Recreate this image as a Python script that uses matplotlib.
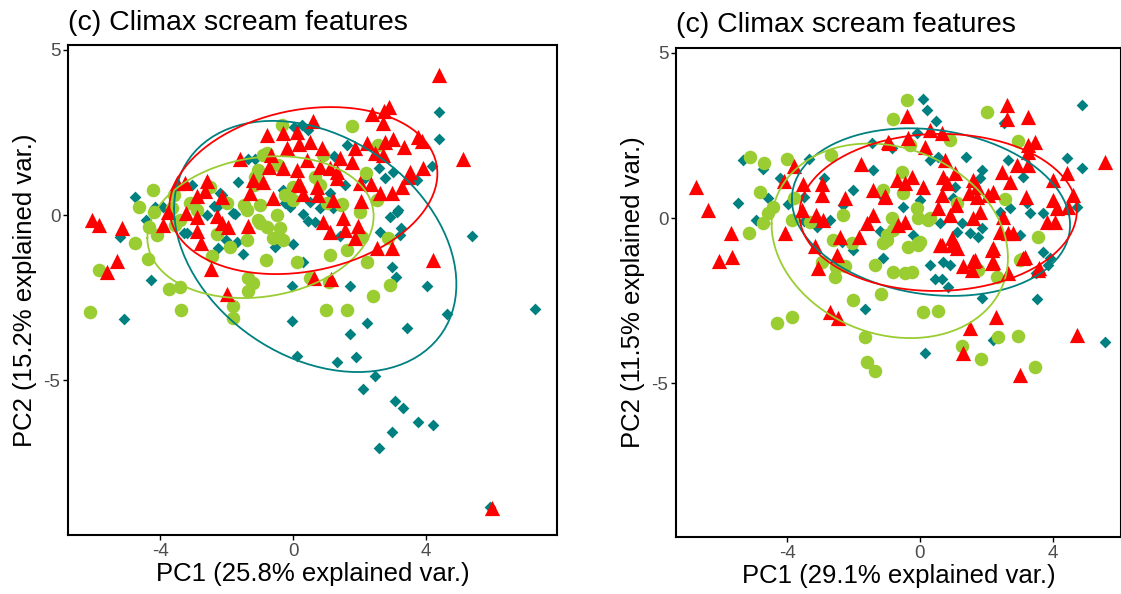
import numpy as np
import matplotlib
matplotlib.use("Agg")
import matplotlib.pyplot as plt

plt.rcParams['font.family'] = ['Liberation Sans', 'DejaVu Sans']
plt.rcParams['axes.unicode_minus'] = False

# group colours
TEAL = '#008080'
GREEN = '#9ACD32'
RED = '#FF0000'

# ---- PCA scores, panel 1 ----
p1_teal_x = [4.39, 4.39, 4.18, 5.38, 7.28, 0.03, 0.27, 0.45, 1.62, 1.23, 2.59, 2.77, 3.01, 3.73, 2.17,
             1.56, 1.11, 0.81, 0.51, 3.16, 0.30, 0.45, 0.66, 1.20, 2.92, 3.13, 2.62, 3.25, 3.22, 1.41,
             0.00, 0.30, -0.03, 2.98, 3.10, 4.03, 1.71, 4.63, 2.23, 1.71, 3.43, -0.03, 0.12, 1.32, 1.89,
             2.47, 2.11, 3.07, 3.31, 3.76, 4.21, 2.98, 2.59, 5.92, -5.20, -4.27, -5.08, -0.54, -1.50,
             -1.74, -2.38, -3.28, -4.42, -1.68, -2.02, -2.26, -4.75, -1.65, -1.35, -1.14, -2.29, -1.80,
             -3.04, -2.14, -0.30, -0.09, -4.15, -3.91, -3.04, -3.19, -2.59, -0.24, -2.20]
p1_teal_y = [3.11, 2.30, 1.48, -0.63, -2.84, 2.66, 2.72, 2.57, 2.11, 1.78, 1.42, 1.12, 1.30, 1.06, 1.12,
             0.91, 0.66, 0.21, 0.39, 0.15, 0.03, -0.18, -0.21, 0.21, -0.06, 0.09, -0.51, -0.39, -0.60, -0.63,
             -0.88, -1.42, -2.15, -1.57, -1.87, -2.15, -2.15, -2.99, -3.26, -3.60, -3.41, -3.20, -4.26, -4.44, -4.29,
             -4.86, -5.26, -5.62, -5.83, -6.25, -6.34, -6.56, -7.04, -8.82, -0.66, -1.96, -3.14, -0.97, -1.18,
             0.03, 0.27, -0.54, -0.15, -0.82, -0.76, -1.00, 0.54, 1.00, 1.69, 1.69, 0.24, 0.06,
             0.91, 0.60, 0.76, 0.24, 0.24, 0.24, 0.30, -0.54, 0.00, 0.36, 0.66]

p1_green_x = [-0.33, 1.77, 2.56, 0.90, -0.78, -0.45, -1.05, -1.17, 0.00, 0.66, 0.81, 2.20, 1.47, 2.53, 1.02,
              2.02, -0.24, -0.99, -1.47, -1.98, -3.10, -3.58, -4.21, -4.63, -4.18, -3.55, -4.09, -4.75, -4.36,
              -5.83, -6.11, -3.73, -3.40, -3.37, -2.44, -2.29, -1.89, -1.38, -1.80, -1.80, -1.35, -1.20, -1.35,
              -0.81, 0.12, -0.60, -0.30, -0.48, -0.99, -2.89, -4.33, -3.64, -1.38, -1.05, -0.78, -0.39, 1.11,
              2.08, 2.23, 2.86, 2.92, 2.41, 0.99, 1.62, 0.51, 1.08, 1.62, 1.44, -3.40, -2.50, -1.14, -0.90, 0.00]
p1_green_y = [2.72, 2.69, 2.11, 1.81, 1.87, 1.51, 1.36, 0.91, 0.85, 1.15, 0.91, 1.27, 0.33, 0.45, 0.36,
              0.09, 0.60, 0.30, 0.30, 0.36, 0.36, 0.60, 0.76, 0.24, 0.09, -0.30, -0.60, -0.85, -1.33,
              -1.66, -2.93, -2.24, -2.18, -2.87, -1.24, -0.57, -0.97, -0.76, -2.75, -3.11, -1.90, -2.05, -2.30,
              -1.36, -1.42, -0.69, -0.76, 0.00, -0.24, 0.15, -0.36, 0.21, 0.15, -0.15, -0.36, -0.39, -1.21,
              -0.66, -1.42, -0.69, -2.11, -2.45, -2.87, -2.87, -1.90, -2.02, -1.06, 0.30, -0.15, 0.85, 1.15, 1.81, 0.45]

p1_red_x = [4.39, 2.74, 2.89, 2.38, 2.71, 0.60, 0.12, 0.51, 0.18, 0.87, 1.86, 2.23, 2.77, 3.01, 3.34,
            2.47, 2.71, 3.76, 3.88, 5.11, 0.42, 1.41, 1.77, 1.11, 1.32, 3.52, 3.91, 3.46, 0.81, 1.32,
            2.02, 2.35, 2.62, 2.98, 3.28, 0.21, 0.72, 0.30, 0.75, 1.20, 2.05, 0.90, 1.50, 1.95, 1.11,
            1.56, 1.86, 2.53, 2.98, 4.21, 0.63, 1.14, 5.98, -0.78, -0.30, -0.18, -1.59, -0.66, -0.72,
            -0.30, 0.12, -3.49, -3.25, -2.59, -2.65, -2.89, -2.14, -1.20, -0.90, -1.29, -0.60, 0.15,
            -6.05, -5.83, -5.14, -5.29, -5.59, -3.76, -3.22, -2.89, -3.91, -2.89, -2.77, -2.47, -1.98,
            -2.29, -2.14, -1.95, -1.35]
p1_red_y = [4.23, 3.14, 3.26, 3.05, 2.78, 2.84, 2.51, 2.21, 2.15, 2.02, 2.02, 2.18, 2.21, 2.30, 2.05,
            1.87, 1.81, 2.36, 2.24, 1.69, 1.66, 1.72, 1.60, 1.42, 1.30, 1.30, 1.42, 1.15, 1.45, 1.12,
            0.97, 0.94, 0.66, 0.66, 0.85, 0.91, 0.85, 0.63, 0.60, 0.45, 0.42, -0.21, -0.09, -0.33, -0.51,
            -0.45, -0.69, -1.00, -1.00, -1.36, -1.90, -1.93, -8.85, 2.42, 2.48, 2.02, 1.69, 1.81, 1.45,
            1.42, 1.36, 0.97, 0.97, 1.03, 0.73, 0.57, 0.54, 1.06, 1.00, 0.66, 0.51, 0.94,
            -0.15, -0.30, -0.39, -1.39, -1.72, 0.09, 0.06, -0.06, -0.30, -0.48, -0.85, -1.63, -2.39,
            -0.03, -0.24, -0.36, -0.33]

# ---- PCA scores, panel 2 ----
p2_teal_x = [-5.32, -4.72, -5.47, -4.93, -4.57, -4.21, -3.97, -3.34, -2.89, -3.49, -2.02, -1.44, -0.84, -1.41,
             -2.32, -2.71, -3.49, -3.10, -2.02, -1.20, -1.11, -2.35, -1.65, 0.15, 0.30, 0.69, 0.90, 0.45, 0.66,
             0.84, 1.86, 2.20, 3.52, 3.70, 3.91, 3.85, 3.49, 5.56, 0.09, 0.21, 0.48, 4.87, 2.53, -0.09, 1.38,
             0.30, 0.54, 1.86, 2.65, 3.10, 4.42, 4.87, 4.72, 3.31, 3.70, 3.22, 2.71, 2.41, 0.00, -0.51, 0.60,
             1.26, 1.11, 1.50, 1.86, 1.74, -0.21, 3.01, 1.80, 1.05, 0.99, -1.08]
p2_teal_y = [1.75, 1.48, 0.45, -0.06, 0.60, 1.21, 0.42, 1.78, 1.21, 0.63, 0.85, 2.27, 2.11, 1.45,
             0.39, -0.06, -0.09, -0.27, -0.97, -0.39, -1.21, -0.73, -2.75, -4.08, -1.42, -1.33, -1.42, -1.84, -1.84,
             -2.08, -2.42, -3.69, -2.45, -1.03, -1.21, -1.42, -1.66, -3.75, 3.60, 3.26, 2.93, 3.41, 2.87, 2.57, 1.84,
             1.75, 1.84, 1.45, 1.75, 1.24, 1.81, 1.51, 0.33, 0.15, 0.15, 0.45, 0.30, 0.18, 0.54, 0.33, -0.15,
             -0.15, -0.42, -0.45, -0.30, -0.57, -0.51, -0.51, 1.21, 0.94, 0.60, 0.60]

p2_green_x = [-0.39, -0.81, 2.02, 2.95, 0.90, -0.30, -5.11, -4.69, -4.00, -2.68, -4.81, -3.79, -4.42, -4.57,
              -4.72, -5.14, -3.85, -3.31, -2.32, -2.62, -2.05, -0.99, -0.81, -1.11, -0.54, -0.51, -0.09, -0.06,
              0.24, -0.84, -0.99, -0.36, -0.06, 2.56, 1.11, 3.55, 3.01, -0.81, -0.24, -0.45, -1.35, -2.53,
              -2.26, -2.56, -2.95, 0.30, 0.00, 2.32, 1.74, 3.07, -4.30, -3.85, -2.02, -1.17, -1.65, -1.59,
              -1.35, 0.09, 0.54, 1.26, 1.83, 2.35, 2.95, 3.46, -1.11, -0.06]
p2_green_y = [3.56, 2.99, 3.20, 2.33, 2.36, 2.21, 1.84, 1.66, 1.78, 1.90, 0.79, 0.60, 0.33, 0.15,
              -0.15, -0.45, -0.06, -0.12, 0.09, -0.66, -0.76, -0.66, -0.36, 0.85, 1.39, 0.76, 0.30, 0.00,
              -0.06, 0.00, -0.51, -0.88, -0.76, 0.57, 0.45, -0.57, -1.27, -1.63, -1.63, -1.66, -1.42, -1.48,
              -1.45, -1.78, -1.33, 0.00, -0.73, -1.78, -1.57, -1.24, -3.17, -2.99, -2.48, -2.30, -3.60, -4.35,
              -4.62, -2.84, -2.81, -3.87, -4.26, -3.60, -3.56, -4.50, -0.76, -0.82]

p2_red_x = [-6.74, -6.38, -5.68, -6.05, -5.65, -3.79, -4.09, -3.52, -2.95, -2.95, -2.26, -1.77, -1.41, -1.05,
            -0.96, -3.55, -3.13, -2.92, -4.06, -3.16, -2.50, -2.41, -1.83, -1.41, -1.59, -3.07, -2.71, -2.47,
            1.50, 2.29, 1.29, 3.01, 4.72, 2.65, 3.55, 3.10, 2.17, 2.17, 1.56, 1.59, 1.29, 0.60, 0.96,
            2.62, 2.62, 3.25, -0.39, 0.30, 0.66, -0.36, -0.93, 0.15, 0.75, 3.25, 3.46, 3.25, 2.92, 3.25,
            5.56, 4.00, 4.42, 4.60, 4.00, 4.12, 4.45, 3.82, 4.06, 2.47, 2.71, 3.19, 1.59, 1.71, 1.05, 0.69,
            0.81, -0.69, -0.45, -0.24, 0.09, 0.66, 0.54, 0.90, 1.08, 1.47, 1.71, 2.05, 2.20, 1.80, 1.59,
            2.50, 2.41, 2.65, 2.80, -1.05, -0.66, -0.45, 0.66, 0.96, 1.11, 1.65, 2.20, 2.20, 3.16, 3.58]
p2_red_y = [0.94, 0.24, -0.45, -1.30, -1.18, 1.57, 1.12, 1.03, 1.03, 0.69, 0.60, 1.63, 0.85, 0.66,
            2.30, 0.24, 0.09, -0.06, -0.45, -0.85, -1.12, -0.57, -0.57, 0.09, -0.15, -1.51, -2.84, -3.02,
            -3.32, -2.99, -4.08, -4.74, -3.53, -1.66, -1.57, -1.21, -0.97, -1.36, -1.57, -1.30, -1.45, -0.82, -0.82,
            3.41, 2.99, 3.05, 3.08, 2.66, 2.57, 2.42, 2.27, 2.15, 1.75, 2.21, 2.30, 1.99, 1.60, 1.60,
            1.69, 1.15, 1.36, 0.69, 0.54, 0.30, 0.33, -0.12, -0.12, 1.39, 1.09, 0.63, 1.15, 0.94, 1.36, 1.24,
            1.06, 1.15, 1.06, 1.24, 0.94, 0.69, 0.30, 0.09, 0.39, 0.76, 0.63, 0.69, 0.79, 0.18, 0.00,
            0.03, -0.42, -0.45, -0.45, 0.63, -0.21, -0.12, -0.82, -0.60, -0.91, -1.27, -0.91, -1.33, -1.18, -1.51]


# normal-probability ellipse around a group of scores (68%)
def group_ellipse(x, y, prob=0.68, n=100):
    pts = np.column_stack([x, y])
    mu = pts.mean(axis=0)
    sigma = np.cov(pts, rowvar=False)
    ed = np.sqrt(-2 * np.log(1 - prob))
    theta = np.linspace(-np.pi, np.pi, n)
    circle = np.column_stack([np.cos(theta), np.sin(theta)])
    ell = ed * circle @ np.linalg.cholesky(sigma).T + mu
    return ell[:, 0], ell[:, 1]


def draw_panel(ax, teal, green, red, xlim, ylim):
    ax.scatter(teal[0], teal[1], marker='D', s=36, color=TEAL, linewidths=0, zorder=2)
    ax.scatter(green[0], green[1], marker='o', s=95, color=GREEN, linewidths=0, zorder=3)
    ax.scatter(red[0], red[1], marker='^', s=120, color=RED, linewidths=0, zorder=4)
    for grp, col in ((teal, TEAL), (green, GREEN), (red, RED)):
        ex, ey = group_ellipse(grp[0], grp[1])
        ax.plot(ex, ey, color=col, lw=1.3, zorder=5)
    ax.set_xlim(*xlim)
    ax.set_ylim(*ylim)
    ax.set_xticks([-4, 0, 4])
    ax.set_yticks([-5, 0, 5])
    ax.tick_params(labelsize=13.5, labelcolor='#4D4D4D', length=3.5, width=1, pad=2)
    for sp in ax.spines.values():
        sp.set_linewidth(1.5)
        sp.set_color('black')


fig = plt.figure(figsize=(11.21, 5.94), dpi=100)
W, H = 1121, 594

ax1 = fig.add_axes([68 / W, 1 - 535 / H, 489 / W, 490 / H])
draw_panel(ax1, (p1_teal_x, p1_teal_y), (p1_green_x, p1_green_y), (p1_red_x, p1_red_y),
           (-6.77, 7.94), (-9.67, 5.14))
ax1.set_xlabel('PC1 (25.8% explained var.)', fontsize=18.5, labelpad=2)
ax1.set_ylabel('PC2 (15.2% explained var.)', fontsize=18.5, labelpad=5)
fig.text(68 / W, 1 - 30 / H, '(c) Climax scream features', fontsize=20.5, va='baseline')

ax2 = fig.add_axes([676 / W, 1 - 537 / H, 445 / W, 489 / H])
draw_panel(ax2, (p2_teal_x, p2_teal_y), (p2_green_x, p2_green_y), (p2_red_x, p2_red_y),
           (-7.34, 6.05), (-9.64, 5.14))
ax2.set_xlabel('PC1 (29.1% explained var.)', fontsize=18.5, labelpad=2)
ax2.set_ylabel('PC2 (11.5% explained var.)', fontsize=18.5, labelpad=5)
fig.text(676 / W, 1 - 32 / H, '(c) Climax scream features', fontsize=20.5, va='baseline')

fig.savefig('out.png', dpi=100)
